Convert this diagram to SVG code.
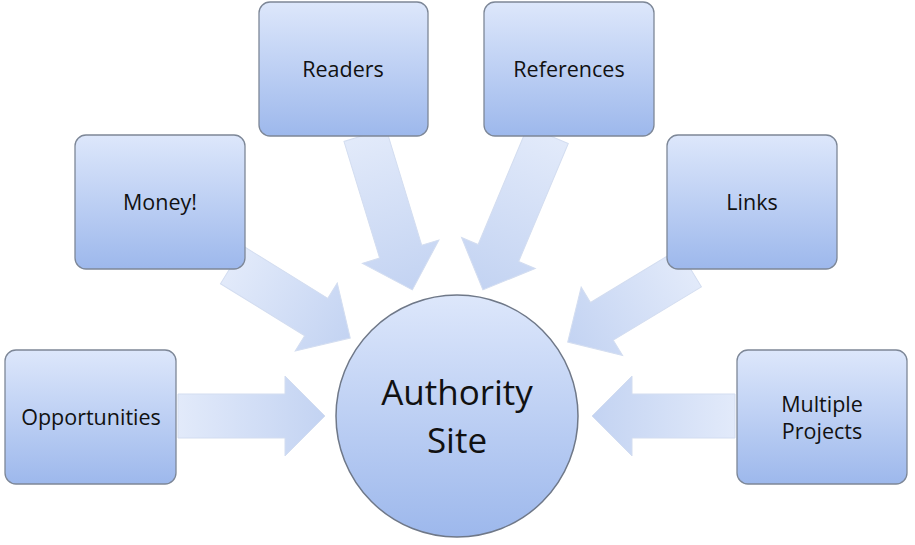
<svg xmlns="http://www.w3.org/2000/svg" width="915" height="545" viewBox="0 0 915 545">
<defs>
<linearGradient id="bg" x1="0" y1="0" x2="0" y2="1"><stop offset="0" stop-color="#dde7fb"/><stop offset="1" stop-color="#9db8ec"/></linearGradient>
<linearGradient id="ag" x1="0" y1="0" x2="1" y2="0"><stop offset="0" stop-color="#e2eafa"/><stop offset="1" stop-color="#c3d3f2"/></linearGradient>
<style>
.box{fill:url(#bg);stroke:#7d8797;stroke-width:1.3}
.t{font-family:"Open Sans","Liberation Sans",sans-serif;font-size:21.5px;fill:#111;text-anchor:middle}
.a{fill:url(#ag);stroke:#d3ddf0;stroke-width:1}
</style>
</defs>
<g id="connectors">
<path class="a" transform="translate(178,416)" d="M0,-22 H107 V-40 L147,0 L107,40 V22 H0 Z"/>
<path class="a" transform="translate(735,416) rotate(180)" d="M0,-22 H103 V-40 L143,0 L103,40 V22 H0 Z"/>
<path class="a" transform="translate(232,265) rotate(31.7)" d="M0,-22 H99 V-40 L139,0 L99,40 V22 H0 Z"/>
<path class="a" transform="translate(365,135) rotate(73)" d="M0,-22 H122 V-40 L162,0 L122,40 V22 H0 Z"/>
<path class="a" transform="translate(548,135) rotate(112.8)" d="M0,-22 H128 V-40 L168,0 L128,40 V22 H0 Z"/>
<path class="a" transform="translate(690,268) rotate(148.8)" d="M0,-22 H103 V-40 L143,0 L103,40 V22 H0 Z"/>
</g>
<g id="readers"><rect class="box" x="259" y="2" width="169" height="134" rx="11"/><text class="t" x="343" y="77">Readers</text></g>
<g id="references"><rect class="box" x="484" y="2" width="170" height="134" rx="11"/><text class="t" x="569" y="77">References</text></g>
<g id="money"><rect class="box" x="75" y="135" width="170" height="134" rx="11"/><text class="t" x="160" y="210">Money!</text></g>
<g id="links"><rect class="box" x="667" y="135" width="170" height="134" rx="11"/><text class="t" x="752" y="210">Links</text></g>
<g id="opportunities"><rect class="box" x="5" y="350" width="171" height="134" rx="11"/><text class="t" x="91" y="425">Opportunities</text></g>
<g id="multiple"><rect class="box" x="737" y="350" width="170" height="134" rx="11"/><text class="t" x="822" y="412">Multiple</text><text class="t" x="822" y="439">Projects</text></g>
<g id="authority"><circle cx="457" cy="416" r="121" fill="url(#bg)" stroke="#6f7888" stroke-width="1.5"/><text class="t" x="457" y="405" style="font-size:35px">Authority</text><text class="t" x="457" y="453" style="font-size:35px">Site</text></g>
</svg>
